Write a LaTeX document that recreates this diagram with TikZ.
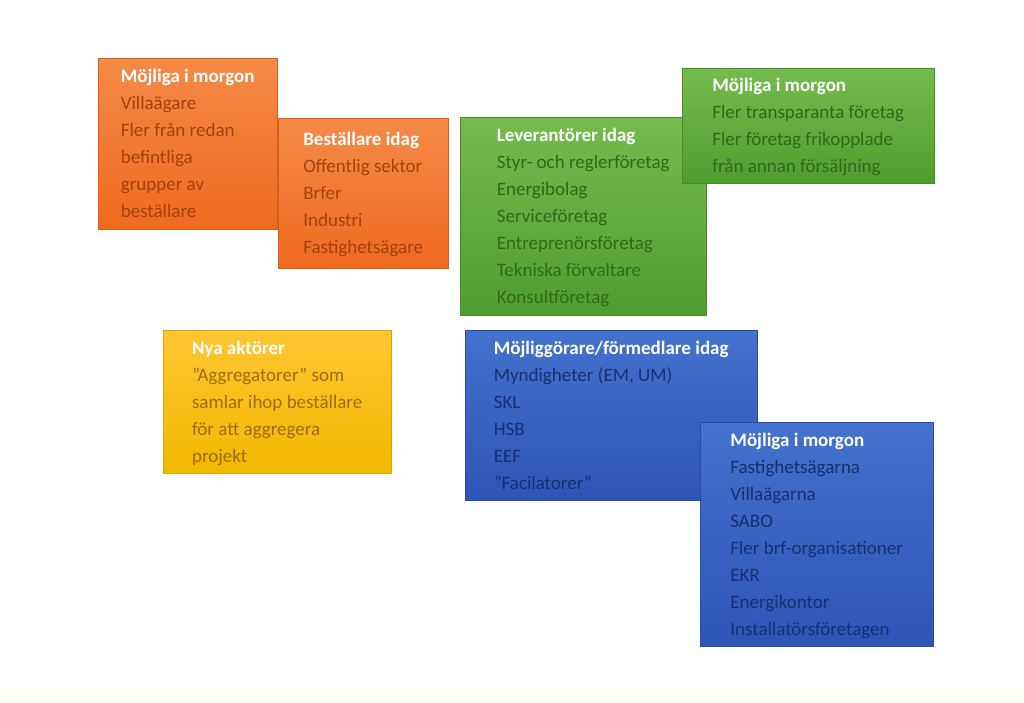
\documentclass[tikz,border=0pt]{standalone}
\usepackage{fontspec}
\setmainfont{Carlito}
\begin{document}
\begin{tikzpicture}[x=1pt,y=-1pt,
 box/.style={rectangle,anchor=north west,align=left,inner xsep=9pt,inner ysep=5pt,
   font=\fontsize{19}{27}\selectfont,text depth=0pt},
 orangebox/.style={box,top color=orange1t,bottom color=orange1b,draw=orange1b!90!black,text=otext},
 greenbox/.style={box,top color=greent,bottom color=greenb,draw=greenb!90!black,text=gtext},
 yellowbox/.style={box,top color=yellowt,bottom color=yellowb,draw=yellowb!90!black,text=ytext},
 bluebox/.style={box,top color=bluet,bottom color=blueb,draw=blueb!90!black,text=btext}]
\definecolor{orange1t}{HTML}{F58A48}
\definecolor{orange1b}{HTML}{EE6A1E}
\definecolor{otext}{HTML}{A3420F}
\definecolor{greent}{HTML}{75BB4E}
\definecolor{greenb}{HTML}{4E9E2E}
\definecolor{gtext}{HTML}{2F6A1A}
\definecolor{yellowt}{HTML}{FFC633}
\definecolor{yellowb}{HTML}{F2B800}
\definecolor{ytext}{HTML}{A06A00}
\definecolor{bluet}{HTML}{4472CC}
\definecolor{blueb}{HTML}{2D55B8}
\definecolor{btext}{HTML}{1A2F6E}
\newcommand{\ttl}[1]{\textcolor{white}{\textbf{#1}}}
\useasboundingbox (0,0) rectangle (1024,703);
\fill[white] (0,0) rectangle (1024,703);
\fill[yellow!4] (0,688) rectangle (1024,703);
\node[orangebox,minimum width=179pt,minimum height=171pt] (o1) at (98,58)
 {\ttl{Möjliga i morgon}\\Villaägare\\Fler från redan\\befintliga\\grupper av\\beställare};
\node[orangebox,minimum width=170pt,minimum height=150pt] (o2) at (278,118)
 {\ttl{Beställare idag}\\Offentlig sektor\\Brfer\\Industri\\Fastighetsägare};
\node[greenbox,minimum width=246pt,minimum height=198pt] (g1) at (460,117)
 {\ttl{Leverantörer idag}\\Styr- och reglerföretag\\Energibolag\\Serviceföretag\\Entreprenörsföretag\\Tekniska förvaltare\\Konsultföretag};
\node[greenbox,minimum width=252pt,minimum height=115pt] (g2) at (682,68)
 {\ttl{Möjliga i morgon}\\Fler transparanta företag\\Fler företag frikopplade\\från annan försäljning};
\node[yellowbox,minimum width=228pt,minimum height=143pt] (y1) at (163,330)
 {\ttl{Nya aktörer}\\”Aggregatorer” som\\samlar ihop beställare\\för att aggregera\\projekt};
\node[bluebox,minimum width=292pt,minimum height=170pt] (b1) at (465,330)
 {\ttl{Möjliggörare/förmedlare idag}\\Myndigheter (EM, UM)\\SKL\\HSB\\EEF\\”Facilatorer”};
\node[bluebox,minimum width=233pt,minimum height=224pt] (b2) at (700,422)
 {\ttl{Möjliga i morgon}\\Fastighetsägarna\\Villaägarna\\SABO\\Fler brf-organisationer\\EKR\\Energikontor\\Installatörsföretagen};
\end{tikzpicture}
\end{document}
